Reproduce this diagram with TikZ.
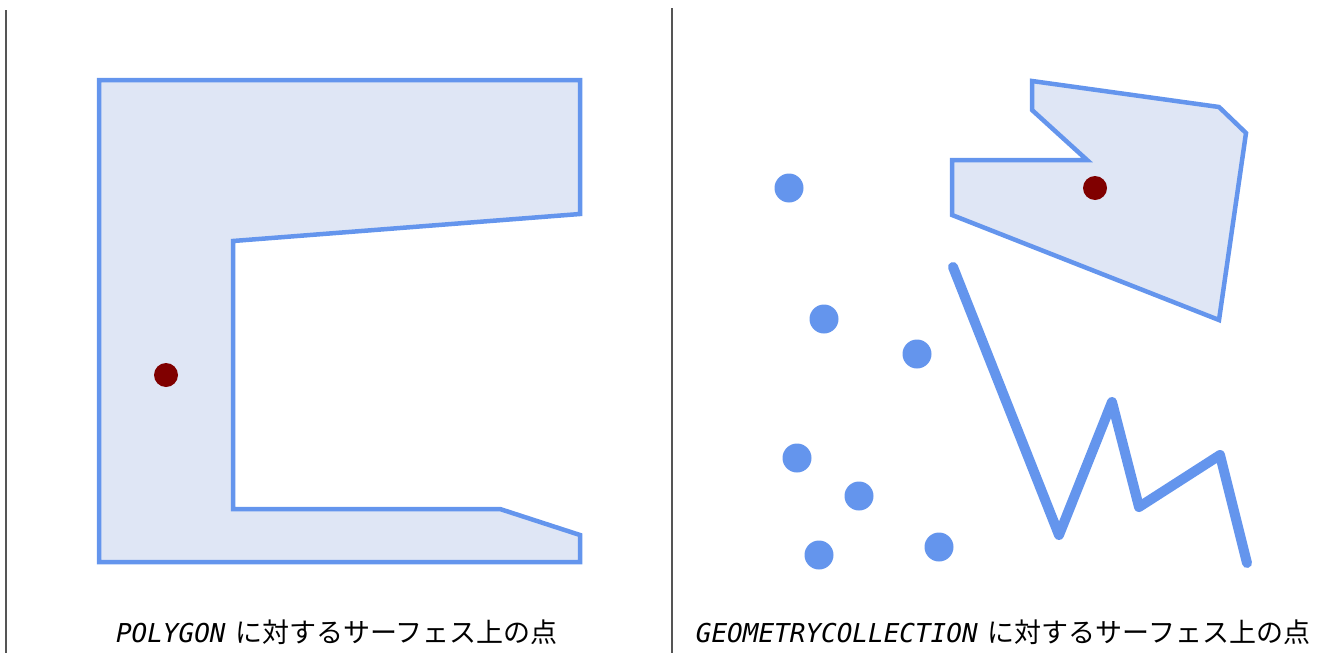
\documentclass[tikz,border=0pt]{standalone}
\usepackage{fontspec}
\setmonofont{DejaVu Sans Mono}
\newfontfamily\cjk{Noto Sans CJK JP}
\usetikzlibrary{positioning}
\definecolor{Geom}{HTML}{6495ED}
\definecolor{GeomFill}{HTML}{DFE6F5}
\definecolor{PtSurf}{HTML}{800000}
\definecolor{Rule}{HTML}{555555}
\tikzset{
    polyshape/.style={draw=Geom, fill=GeomFill, line width=4.5pt, line join=miter},
    lineshape/.style={draw=Geom, line width=10pt, line join=round, line cap=round},
    geompt/.style={circle, fill=Geom, inner sep=0pt, minimum size=29pt},
    surfpt/.style={circle, fill=PtSurf, inner sep=0pt, minimum size=24pt},
    caption/.style={inner sep=0pt, font=\fontsize{26}{30}\selectfont},
    divider/.style={draw=Rule, line width=1.2pt},
}
\newcommand{\capt}[1]{{\ttfamily\itshape #1}\hspace{10pt}{\cjk\fontsize{27}{30}\selectfont に対するサーフェス上の点}}

\begin{document}
\begin{tikzpicture}[x=1pt, y=-1pt]
    \useasboundingbox (0,0) rectangle (1328,653);
    % dividers
    \draw[divider] (6,10) -- (6,653);
    \draw[divider] (672,8) -- (672,653);

    % POLYGON
    \draw[polyshape] (99,80) -- (580,80) -- (580,214) -- (233,241) -- (233,509)
        -- (500,509) -- (580,535) -- (580,562) -- (99,562) -- cycle;
    \node[surfpt] (p1) at (166,375) {};
    \node[caption, anchor=base] (c1) at (337,642) {\capt{POLYGON}};

    % GEOMETRYCOLLECTION
    \draw[polyshape] (1032,81) -- (1219,107) -- (1246,133) -- (1219,320) -- (952,215)
        -- (952,160) -- (1087,160) -- (1032,110) -- cycle;
    \draw[lineshape] (953,267) -- (1059,535) -- (1112,402) -- (1139,507) -- (1220,455) -- (1247,563);
    \foreach \px/\py [count=\i] in {789/188, 824/319, 917/354, 797/458, 859/496, 819/555, 939/547} {
        \node[geompt] (g\i) at (\px,\py) {};
    }
    \node[surfpt] (p2) at (1095,188) {};
    \node[caption, anchor=base] (c2) at (1003,642) {\capt{GEOMETRYCOLLECTION}};
\end{tikzpicture}
\end{document}
